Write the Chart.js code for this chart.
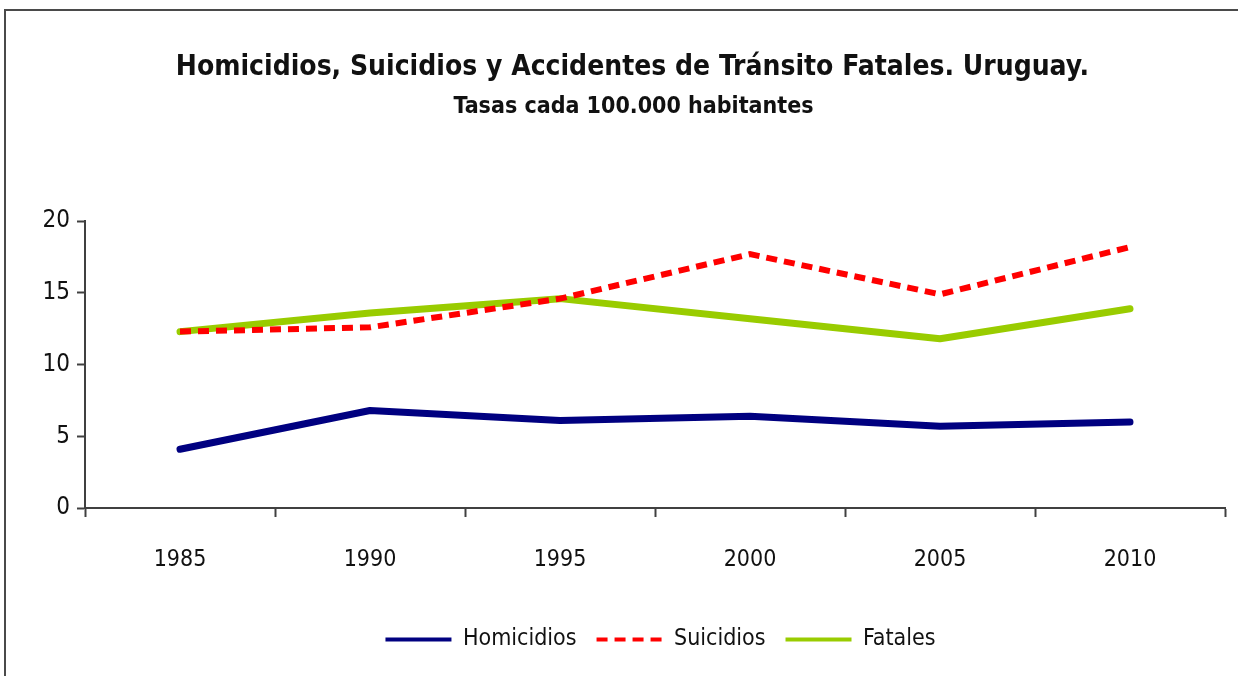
<!DOCTYPE html>
<html>
<head>
<meta charset="utf-8">
<script src="https://cdn.jsdelivr.net/npm/chart.js@4"></script>
<style>
body{margin:0;background:#fff;}
#cornice{position:absolute;left:4px;top:9px;width:1234px;height:667px;border-top:2px solid #4a4a4a;border-left:2px solid #4a4a4a;box-sizing:border-box;}
#contenitore{position:absolute;left:0;top:0;width:1238px;height:676px;}
</style>
</head>
<body>
<div id="cornice"></div>
<div id="contenitore"><canvas id="graf" width="1238" height="676"></canvas></div>
<script>
// dati (tasas cada 100.000 habitantes)
var anni=["1985","1990","1995","2000","2005","2010"];
var homicidios=[4.1,6.8,6.1,6.4,5.7,6.0];
var suicidios=[12.3,12.6,14.6,17.7,14.9,18.2];
var fatales=[12.3,13.6,14.6,13.2,11.8,13.9];
var yTicks=[0,5,10,15,20];

var narrow="'Liberation Sans Narrow','Arial Narrow','DejaVu Sans Condensed',sans-serif";
var grigio="#404040";

// la legenda con la linea tratteggiata (usePointStyle perde il borderDash)
function etichette(chart){
    var items=Chart.defaults.plugins.legend.labels.generateLabels(chart);
    items.forEach(function(it){
        var ds=chart.data.datasets[it.datasetIndex];
        it.lineDash=ds.borderDash||[];
        it.lineWidth=4;
        it.lineCap="butt";
    });
    return items;
}

// sposta legenda e titoli un po' a destra come nell'originale
var sposta={
    id:"sposta",
    afterLayout:function(chart){
        chart.legend.left+=48;
        chart.legend.right+=48;
        chart.titleBlock.left+=20;
        chart.titleBlock.right+=20;
        var sub=chart.boxes.filter(function(b){return b!==chart.titleBlock && b.options && b.options.text==="Tasas cada 100.000 habitantes";})[0];
        if(sub){
            sub.left+=21;
            sub.right+=21;
        }
    }
};

var grafico=new Chart("graf",{
    type:"line",
    data:{
        labels: anni,
        datasets:[{
            label:"Homicidios",
            data:homicidios,
            borderColor:"#000080",
            backgroundColor:"#000080",
            borderWidth:7,
            borderCapStyle:"round",
            borderJoinStyle:"round",
            pointRadius:0,
            tension:0
        },{
            label:"Suicidios",
            data:suicidios,
            borderColor:"#ff0000",
            backgroundColor:"#ff0000",
            borderWidth:6,
            borderDash:[11,7],
            pointRadius:0,
            tension:0
        },{
            label:"Fatales",
            data:fatales,
            borderColor:"#99cc00",
            backgroundColor:"#99cc00",
            borderWidth:7,
            borderCapStyle:"round",
            borderJoinStyle:"round",
            pointRadius:0,
            tension:0
        }]
    },
    options:{
        responsive:false,
        animation:false,
        layout:{padding:{left:0,right:13,top:10,bottom:15}},
        plugins:{
            title:{
                display:true,
                text:"Homicidios, Suicidios y Accidentes de Tránsito Fatales. Uruguay.",
                color:"#111",
                font:{family:narrow,size:28,weight:"bold",lineHeight:1.2},
                padding:{top:41,bottom:4}
            },
            subtitle:{
                display:true,
                text:"Tasas cada 100.000 habitantes",
                color:"#111",
                font:{family:narrow,size:23,weight:"bold",lineHeight:1.2},
                padding:{top:5,bottom:100}
            },
            legend:{
                display:true,
                position:"bottom",
                labels:{
                    usePointStyle:true,
                    pointStyle:"line",
                    pointStyleWidth:66,
                    boxHeight:23,
                    padding:20,
                    color:"#111",
                    font:{family:narrow,size:23},
                    generateLabels:etichette
                }
            },
            tooltip:{enabled:false}
        },
        scales:{
            x:{
                offset:true,
                grid:{display:true,drawOnChartArea:false,offset:true,tickLength:9,tickColor:grigio,tickWidth:2},
                border:{display:true,color:grigio,width:2},
                ticks:{color:"#111",padding:29,font:{family:narrow,size:23}},
                afterFit:function(s){s.height=100;}
            },
            y:{
                min:0,
                max:20,
                afterBuildTicks:function(s){s.ticks=yTicks.map(function(v){return {value:v};});},
                grid:{display:true,drawOnChartArea:false,tickLength:8,tickColor:grigio,tickWidth:2},
                border:{display:true,color:grigio,width:2},
                ticks:{color:"#111",padding:7,font:{family:narrow,size:24}},
                afterFit:function(s){s.width=85;}
            }
        }
    },
    plugins:[sposta]
});
</script>
</body>
</html>
